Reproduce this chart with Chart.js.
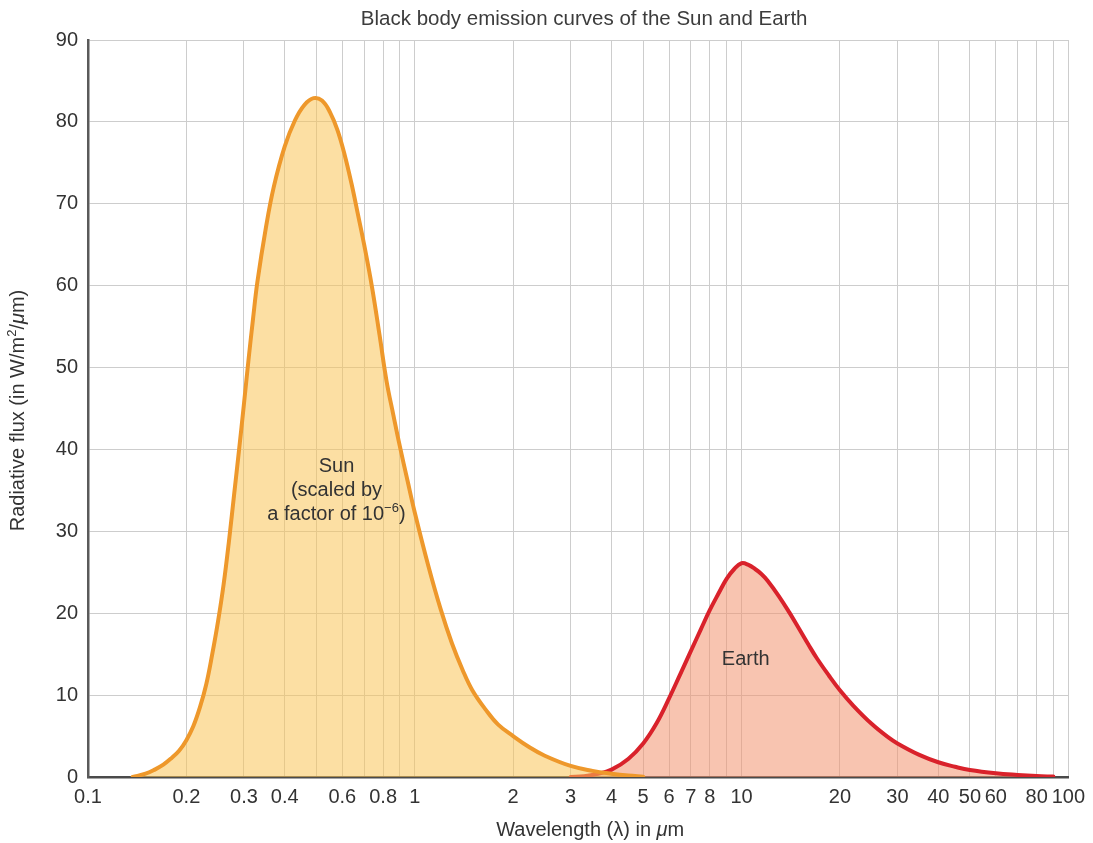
<!DOCTYPE html>
<html>
<head>
<meta charset="utf-8">
<script src="https://cdn.jsdelivr.net/npm/chart.js@4/dist/chart.umd.min.js"></script>
<style>
html,body{margin:0;padding:0;background:#ffffff;}
#wrap{width:1093px;height:843px;position:relative;}
</style>
</head>
<body>
<div id="wrap"><canvas id="c" width="1093" height="843"></canvas></div>
<script>
// ---------------- data ----------------
const chartTitle = 'Black body emission curves of the Sun and Earth';

const sunWavelengths = [0.137, 0.15, 0.16, 0.17, 0.18, 0.19, 0.2, 0.21, 0.22, 0.23, 0.24, 0.25, 0.26, 0.27, 0.28, 0.29, 0.30, 0.31, 0.32, 0.33, 0.35, 0.37, 0.40, 0.43, 0.46, 0.49, 0.52, 0.55, 0.58, 0.61, 0.64, 0.67, 0.70, 0.74, 0.78, 0.82, 0.86, 0.90, 0.95, 1.0, 1.1, 1.2, 1.3, 1.4, 1.5, 1.65, 1.8, 2.0, 2.25, 2.5, 3.0, 3.5, 4.0, 4.5, 5.0];
const sunFlux        = [0,     0.4,  0.9,  1.5,  2.3,  3.2,  4.5, 6.2,  8.5,  11.3, 15,   19,   23.5, 28.8, 34.5, 40,   45.5, 51,   56,   60.5, 67,   72,   77,   80.2, 82.1, 82.9, 82.6, 81.2, 79,   76,   72.5, 68.7, 65,   59.8, 54,   48.3, 44.2, 40.4, 36.2, 32.3, 25.8, 20.5, 16.3, 13.1, 10.6, 8.2, 6.4, 5.0, 3.6,  2.6, 1.35, 0.75, 0.4, 0.17, 0.04];

const earthWavelengths = [3, 3.3, 3.6,  4,   4.5, 5,   5.5, 6,   6.5,  7,    7.5, 8,    8.5,  9,    9.5,  10,   10.5, 11,   11.5, 12, 13,   14,   15,   16,   17,   18.5, 20,   22,  25,  28,  30,  35,  40,  45,   50,   60,   70,   80,   90];
const earthFlux        = [0, 0.1, 0.35, 0.9, 2.2, 4.1, 6.6, 9.6, 12.6, 15.4, 18,  20.4, 22.4, 24.2, 25.4, 26.1, 25.9, 25.4, 24.8, 24, 22.1, 20.1, 18.1, 16.2, 14.5, 12.4, 10.6, 8.7, 6.5, 4.9, 4.1, 2.7, 1.8, 1.25, 0.85, 0.45, 0.25, 0.12, 0.05];

const xGridValues = [0.1,0.2,0.3,0.4,0.5,0.6,0.7,0.8,0.9,1,2,3,4,5,6,7,8,9,10,20,30,40,50,60,70,80,90,100];
const xTickLabels = ['0.1','0.2','0.3','0.4','','0.6','','0.8','','1','2','3','4','5','6','7','8','','10','20','30','40','50','60','','80','','100'];
const yTickValues = [0,10,20,30,40,50,60,70,80,90];

const sunLabelLines = ['Sun', '(scaled by', 'a factor of 10'];
const sunLabelExponent = '\u22126';
const earthLabel = 'Earth';
const sunLabelAt = {x: 0.576, y: 37.9};
const earthLabelAt = {x: 10.3, y: 14.3};

// ---------------- chart ----------------
const FONT = '"Liberation Sans", Arial, Helvetica, sans-serif';
const TEXT = '#333333';

function drawRuns(ctx, runs, cx, cy) {
  let total = 0;
  runs.forEach(r => { ctx.font = r.font; r.w = ctx.measureText(r.text).width; total += r.w; });
  let x = cx - total / 2;
  ctx.textAlign = 'left';
  ctx.textBaseline = 'middle';
  runs.forEach(r => { ctx.font = r.font; ctx.fillText(r.text, x, cy + (r.dy || 0)); x += r.w; });
}

const textPlugin = {
  id: 'texts',
  afterDraw(chart) {
    const ctx = chart.ctx, ca = chart.chartArea, xs = chart.scales.x, ys = chart.scales.y;
    const f = '20px ' + FONT, fi = 'italic 20px ' + FONT, fs = '13px ' + FONT;
    ctx.save();
    ctx.fillStyle = '#3c3c3c';
    drawRuns(ctx, [{text: chartTitle, font: '20.5px ' + FONT}], (ca.left + ca.right) / 2 + 6, 19);
    ctx.fillStyle = TEXT;
    drawRuns(ctx, [{text: 'Wavelength (\u03bb) in ', font: f}, {text: '\u03bc', font: fi}, {text: 'm', font: f}], (ca.left + ca.right) / 2 + 12, 830);
    ctx.save();
    ctx.translate(18, (ca.top + ca.bottom) / 2 + 2);
    ctx.rotate(-Math.PI / 2);
    drawRuns(ctx, [{text: 'Radiative flux (in W/m', font: f}, {text: '2', font: fs, dy: -6}, {text: '/', font: f}, {text: '\u03bc', font: fi}, {text: 'm)', font: f}], 0, 0);
    ctx.restore();
    const sx = xs.getPixelForValue(sunLabelAt.x), sy = ys.getPixelForValue(sunLabelAt.y);
    drawRuns(ctx, [{text: sunLabelLines[0], font: f}], sx, sy);
    drawRuns(ctx, [{text: sunLabelLines[1], font: f}], sx, sy + 24);
    drawRuns(ctx, [{text: sunLabelLines[2], font: f}, {text: sunLabelExponent, font: fs, dy: -6}, {text: ')', font: f}], sx, sy + 48);
    drawRuns(ctx, [{text: earthLabel, font: f}], xs.getPixelForValue(earthLabelAt.x), ys.getPixelForValue(earthLabelAt.y));
    ctx.restore();
  }
};

const toPoints = (xs, ys) => xs.map((x, i) => ({x: x, y: ys[i]}));

new Chart(document.getElementById('c'), {
  type: 'line',
  data: {
    datasets: [
      {
        label: 'Sun',
        data: toPoints(sunWavelengths, sunFlux),
        borderColor: '#ee982b',
        backgroundColor: 'rgba(249,196,88,0.55)',
        borderWidth: 4,
        pointRadius: 0,
        fill: 'origin',
        tension: 0.4
      },
      {
        label: 'Earth',
        data: toPoints(earthWavelengths, earthFlux),
        borderColor: '#d9222b',
        backgroundColor: 'rgba(242,148,111,0.55)',
        borderWidth: 4,
        pointRadius: 0,
        fill: 'origin',
        tension: 0.4
      }
    ]
  },
  options: {
    responsive: false,
    animation: false,
    devicePixelRatio: 1,
    elements: {line: {capBezierPoints: true, borderJoinStyle: 'round', borderCapStyle: 'round'}},
    layout: {padding: {top: 40, right: 23, left: 0, bottom: 0}},
    plugins: {legend: {display: false}, tooltip: {enabled: false}, title: {display: false}},
    scales: {
      x: {
        type: 'logarithmic',
        min: 0.1,
        max: 100,
        grid: {color: '#cdcdcd', lineWidth: 1, drawTicks: false},
        border: {display: true, color: '#4a4a4a', width: 2.5},
        ticks: {
          autoSkip: false, maxRotation: 0, minRotation: 0, padding: 8,
          color: TEXT, font: {family: FONT, size: 20},
          callback: function (v, i) { return xTickLabels[i]; }
        },
        afterBuildTicks: function (s) { s.ticks = xGridValues.map(v => ({value: v})); },
        afterFit: function (s) { s.height = 66; }
      },
      y: {
        type: 'linear',
        min: 0,
        max: 90,
        grid: {color: '#cdcdcd', lineWidth: 1, drawTicks: false},
        border: {display: true, color: '#5a5a5a', width: 2.5},
        ticks: {
          stepSize: 10, padding: 10, color: TEXT, font: {family: FONT, size: 20}
        },
        afterBuildTicks: function (s) { s.ticks = yTickValues.map(v => ({value: v})); },
        afterFit: function (s) { s.width = 88; }
      }
    }
  },
  plugins: [textPlugin]
});
</script>
</body>
</html>
